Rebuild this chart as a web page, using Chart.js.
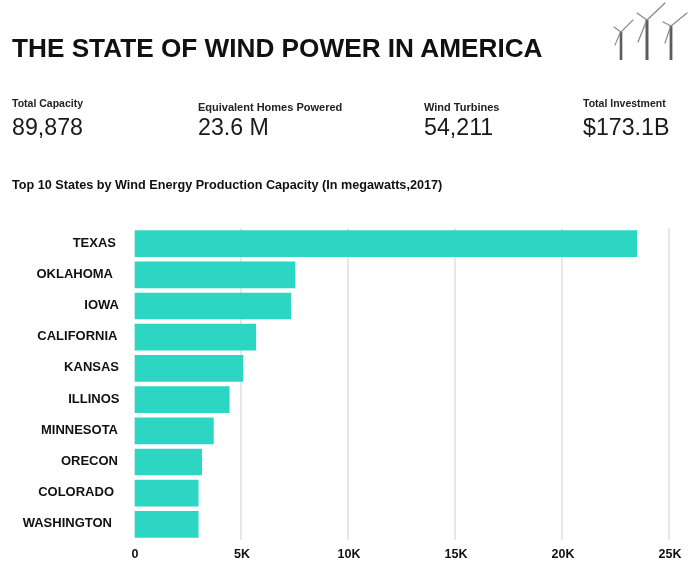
<!DOCTYPE html>
<html>
<head>
<meta charset="utf-8">
<title>The State of Wind Power in America</title>
<script src="https://cdn.jsdelivr.net/npm/chart.js@4"></script>
<style>
  html, body { margin: 0; padding: 0; background: #fff; }
  body { position: relative; width: 693px; height: 563px; overflow: hidden; font-family: "Liberation Sans", Arial, sans-serif; color: #111; }
  #chart { position: absolute; left: 0; top: 0; }
  #turbines { position: absolute; left: 600px; top: 0; }
  .txt { position: absolute; white-space: nowrap; }
  .title { left: 12px; top: 31px; font-size: 26.2px; line-height: 34px; font-weight: bold; }
  .label { font-size: 10.5px; line-height: 12px; font-weight: bold; color: #222; }
  .wide { font-size: 11px; }
  .big { font-size: 23.2px; line-height: 28px; color: #1a1a1a; top: 113px; }
  .sub { left: 12px; top: 178px; font-size: 12.65px; line-height: 14px; font-weight: bold; }
</style>
</head>
<body>
<canvas id="chart" width="693" height="563"></canvas>

<div class="txt title">THE STATE OF WIND POWER IN AMERICA</div>

<div class="txt label" style="left:12px;top:97px">Total Capacity</div>
<div class="txt big" style="left:12px">89,878</div>
<div class="txt label wide" style="left:198px;top:101px">Equivalent Homes Powered</div>
<div class="txt big" style="left:198px">23.6 M</div>
<div class="txt label wide" style="left:424px;top:101px">Wind Turbines</div>
<div class="txt big" style="left:424px">54,211</div>
<div class="txt label" style="left:583px;top:97px">Total Investment</div>
<div class="txt big" style="left:583px">$173.1B</div>

<div class="txt sub">Top 10 States by Wind Energy Production Capacity (In megawatts,2017)</div>

<svg id="turbines" width="93" height="70" viewBox="0 0 93 70">
  <g stroke="#8a8a8a" stroke-linecap="round" fill="none">
    <path d="M21 32 L21 60" stroke="#5c5c5c" stroke-width="2.6" stroke-linecap="butt"/>
    <path d="M21 32 L33 20 M21 32 L14 27 M20 33 L15 45" stroke-width="1.1"/>
    <path d="M47 20 L47 60" stroke="#5c5c5c" stroke-width="3" stroke-linecap="butt"/>
    <path d="M47 20 L65 3 M47 20 L37 13 M46 22 L38 42" stroke-width="1.3"/>
    <path d="M71 26 L71 60" stroke="#5c5c5c" stroke-width="2.8" stroke-linecap="butt"/>
    <path d="M71 26 L87 13 M71 26 L63 22 M70 28 L65 43" stroke-width="1.2"/>
  </g>
</svg>

<script>
const states = ["TEXAS", "OKLAHOMA", "IOWA", "CALIFORNIA", "KANSAS", "ILLINOS", "MINNESOTA", "ORECON", "COLORADO", "WASHINGTON"];
const capacity = [23490, 7520, 7320, 5690, 5080, 4450, 3710, 3160, 3000, 3000];
const tickValues = [0, 5000, 10000, 15000, 20000, 25000];
const tickLabels = ["0", "5K", "10K", "15K", "20K", "25K"];

const labelFont = 'bold 13px "Liberation Sans", Arial, sans-serif';

// state names sit a little unevenly in the original, so they are drawn one by one
const stateLabels = {
  id: "stateLabels",
  afterDraw: function (chart) {
    const ctx = chart.ctx;
    const yScale = chart.scales.y;
    const rightEdges = [116, 113, 119, 117.5, 119, 119.5, 118, 118, 114, 112];

    ctx.save();
    ctx.font = labelFont;
    ctx.fillStyle = "#111";
    ctx.textAlign = "right";
    ctx.textBaseline = "middle";
    states.forEach(function (name, i) {
      ctx.fillText(name, rightEdges[i], yScale.getPixelForTick(i) - 0.5);
    });
    ctx.restore();
  }
};

new Chart(document.getElementById("chart"), {
  type: "bar",
  data: {
    labels: states,
    datasets: [
      {
        label: "Capacity (MW)",
        data: capacity,
        backgroundColor: "#2cd6c2",
        barThickness: 26
      }
    ]
  },
  plugins: [stateLabels],
  options: {
    indexAxis: "y",
    responsive: false,
    animation: false,
    layout: {
      padding: { top: 228, right: 24, bottom: 0, left: 0 }
    },
    plugins: {
      legend: { display: false },
      tooltip: { enabled: false }
    },
    scales: {
      x: {
        min: 0,
        max: 25000,
        afterBuildTicks: function (scale) {
          scale.ticks = tickValues.map(function (v) { return { value: v }; });
        },
        afterFit: function (scale) {
          scale.height = 23;
        },
        grid: {
          color: function (c) { return c.tick.value === 0 ? "rgba(0,0,0,0)" : "#e8e8e8"; },
          lineWidth: 2,
          drawTicks: false
        },
        border: { display: false },
        ticks: {
          maxRotation: 0,
          padding: 7,
          labelOffset: 1,
          color: "#111",
          font: { family: '"Liberation Sans", Arial, sans-serif', size: 12.5, weight: "bold" },
          callback: function (value) {
            return tickLabels[tickValues.indexOf(value)];
          }
        }
      },
      y: {
        afterFit: function (scale) {
          scale.width = 134;
        },
        grid: { display: false },
        border: { display: false },
        ticks: { display: false }
      }
    }
  }
});
</script>
</body>
</html>
